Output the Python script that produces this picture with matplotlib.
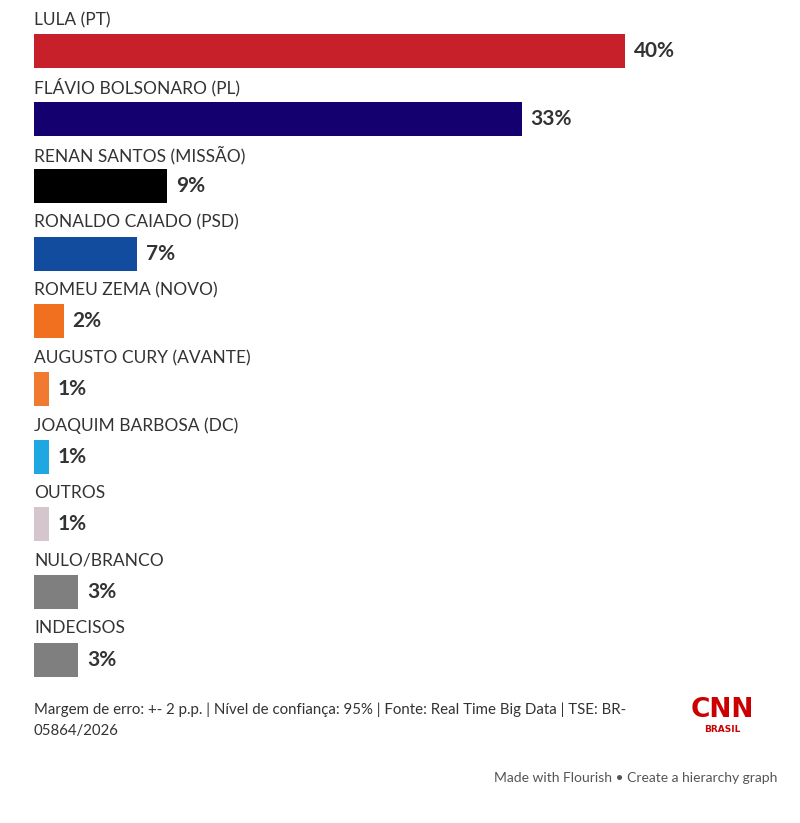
import matplotlib
matplotlib.use("Agg")
import matplotlib.pyplot as plt

categories = ["LULA (PT)", "FLÁVIO BOLSONARO (PL)", "RENAN SANTOS (MISSÃO)",
              "RONALDO CAIADO (PSD)", "ROMEU ZEMA (NOVO)", "AUGUSTO CURY (AVANTE)",
              "JOAQUIM BARBOSA (DC)", "OUTROS", "NULO/BRANCO", "INDECISOS"]
values = [40, 33, 9, 7, 2, 1, 1, 1, 3, 3]
colors = ["#C8202B", "#14006E", "#000000", "#114C9E", "#F07020", "#F07A30",
          "#1EA7E0", "#D4C6CC", "#7F7F7F", "#7F7F7F"]
value_labels = [f"{v}%" for v in values]

FONT = "Lato"
W, H = 800, 823
fig = plt.figure(figsize=(W / 100, H / 100), dpi=100)

# axes: x 0..40 maps to px 34..625 ; rows centred at 51 .. 659.5
row_h = (659.5 - 51) / 9
top_px = 51 - row_h / 2
bot_px = 659.5 + row_h / 2
ax = fig.add_axes([34 / W, 1 - bot_px / H, (625 - 34) / W, (bot_px - top_px) / H])
ax.set_xlim(0, 40)
ax.set_ylim(len(categories) - 0.5, -0.5)
ax.axis("off")

ys = list(range(len(categories)))
ax.barh(ys, values, height=34 / row_h, color=colors, edgecolor="none")
for y, v, lab, cat in zip(ys, values, value_labels, categories):
    ax.text(0, y - 0.46, cat, fontsize=12.5, family=FONT, color="#333333",
            va="center", ha="left")
    ax.annotate(lab, (v, y), xytext=(6.5, 0), textcoords="offset points",
                fontsize=15, fontweight="bold", family=FONT, color="#333333",
                va="center", ha="left", annotation_clip=False)

fig.text(34 / W, 1 - 710 / H,
         "Margem de erro: +- 2 p.p. | Nível de confiança: 95% | Fonte: Real Time Big Data | TSE: BR-",
         fontsize=10.8, family=FONT, color="#333333", va="center", ha="left")
fig.text(34 / W, 1 - 731 / H, "05864/2026",
         fontsize=10.8, family=FONT, color="#333333", va="center", ha="left")
fig.text(777 / W, 1 - 778 / H, "Made with Flourish • Create a hierarchy graph",
         fontsize=10, family=FONT, color="#555555", va="center", ha="right")

# CNN Brasil logo
fig.text(722 / W, 1 - 710 / H, "CNN", fontsize=19, fontweight="bold",
         family="DejaVu Sans", color="#CC0000", va="center", ha="center")
fig.text(722 / W, 1 - 730 / H, "BRASIL", fontsize=6.5, fontweight="bold",
         family="DejaVu Sans", color="#CC0000", va="center", ha="center")

fig.savefig("out.png", dpi=100, facecolor="white")
